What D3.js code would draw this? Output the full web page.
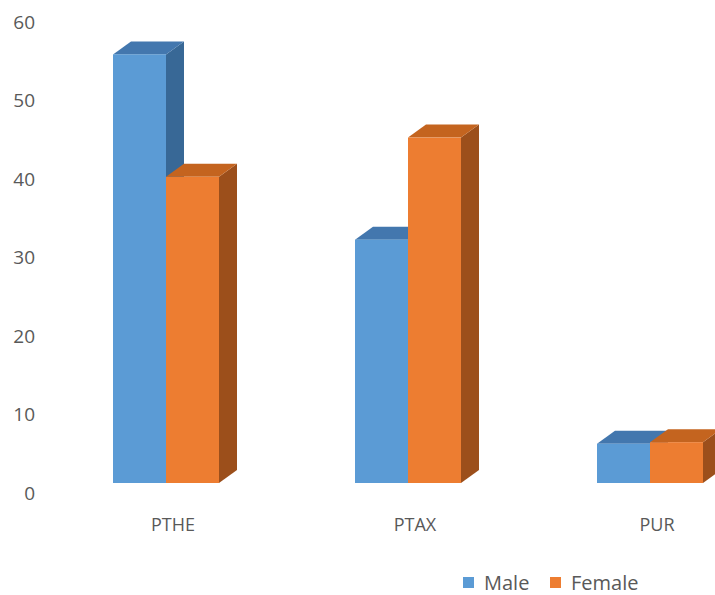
<!DOCTYPE html>
<html>
<head>
<meta charset="utf-8">
<script src="https://cdn.jsdelivr.net/npm/d3@7"></script>
<style>
  html, body { margin: 0; padding: 0; background: #ffffff; }
  svg { display: block; }
  text { font-family: "Open Sans", "Noto Sans", sans-serif; fill: #595959; }
</style>
</head>
<body>
<svg id="chart" width="715" height="595"></svg>
<script>
// Chart data
const categories = ["PTHE", "PTAX", "PUR"];
const seriesNames = ["Male", "Female"];
const maleValues = [54.6, 31, 5];
const femaleValues = [39, 44, 5.2];
const yTicks = [0, 10, 20, 30, 40, 50, 60];

// Face colours per series: front, top, side
const palette = {
  Male:   { front: "#5B9BD5", top: "#4377AE", side: "#386896" },
  Female: { front: "#ED7D31", top: "#C4641F", side: "#9C4F1B" }
};

const svg = d3.select("#chart");

// 3D extrusion offset
const depthX = 18, depthY = -13;

const x = d3.scaleBand().domain(categories).range([45, 771]).paddingInner(0).paddingOuter(0);
const xSub = d3.scaleBand().domain(seriesNames).range([-53, 53]).padding(0);
const y = d3.scaleLinear().domain([0, 60]).range([483, 12]);

// Value axis labels (placed along the front edge of the floor)
const axis = d3.axisLeft(y).tickValues(yTicks).tickSize(0).tickPadding(0);
const axisG = svg.append("g").attr("transform", "translate(35,10)").call(axis);
axisG.select(".domain").remove();
axisG.selectAll("text")
  .style("font-size", "19px")
  .style("font-family", "'Open Sans', sans-serif")
  .attr("fill", "#595959");

// Bars
const rows = [];
categories.forEach((c, i) => {
  rows.push({ cat: c, series: "Male", value: maleValues[i] });
  rows.push({ cat: c, series: "Female", value: femaleValues[i] });
});

const barG = svg.append("g");
rows.forEach(d => {
  const x0 = x(d.cat) + x.bandwidth() / 2 + xSub(d.series);
  const x1 = x0 + xSub.bandwidth();
  const yTop = y(d.value);
  const yBase = y(0);
  const col = palette[d.series];
  const g = barG.append("g");
  // side face
  g.append("path")
    .attr("d", `M${x1},${yTop} L${x1 + depthX},${yTop + depthY} L${x1 + depthX},${yBase + depthY} L${x1},${yBase} Z`)
    .attr("fill", col.side);
  // top face
  g.append("path")
    .attr("d", `M${x0},${yTop} L${x0 + depthX},${yTop + depthY} L${x1 + depthX},${yTop + depthY} L${x1},${yTop} Z`)
    .attr("fill", col.top);
  // front face
  g.append("rect")
    .attr("x", x0).attr("y", yTop)
    .attr("width", x1 - x0).attr("height", yBase - yTop)
    .attr("fill", col.front);
});

// Category labels
svg.append("g").selectAll("text")
  .data(categories)
  .join("text")
  .attr("x", d => x(d) + x.bandwidth() / 2 + 7)
  .attr("y", 531)
  .attr("text-anchor", "middle")
  .style("font-size", "18px")
  .text(d => d);

// Legend
const legendItems = [
  { name: "Male", sx: 463, tx: 484 },
  { name: "Female", sx: 550, tx: 571 }
];
const lg = svg.append("g");
legendItems.forEach(it => {
  lg.append("rect").attr("x", it.sx).attr("y", 577).attr("width", 11).attr("height", 11)
    .attr("fill", palette[it.name].front);
  lg.append("text").attr("x", it.tx).attr("y", 590)
    .style("font-size", "20px").text(it.name);
});
</script>
</body>
</html>
